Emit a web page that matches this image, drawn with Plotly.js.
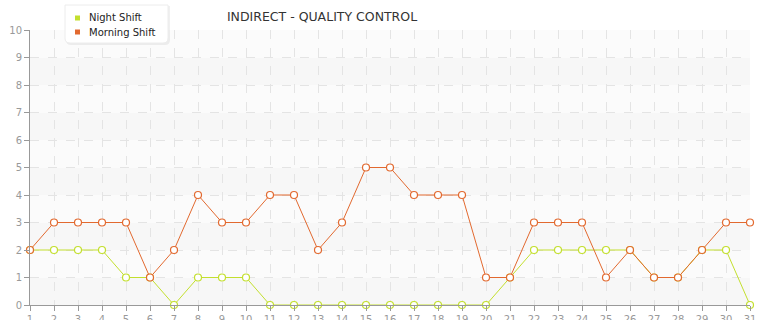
<!DOCTYPE html>
<html><head><meta charset="utf-8">
<script src="https://cdn.plot.ly/plotly-3.0.1.min.js"></script>
<style>html,body{margin:0;padding:0;background:#fff;}#chart{width:765px;height:320px;}</style>
</head><body><div id="chart"></div>
<script>
const days = Array.from({length:31},(_,i)=>i+1);
const nightShift   = [2,2,2,2,1,1,0,1,1,1,0,0,0,0,0,0,0,0,0,0,1,2,2,2,2,2,1,1,2,2,0];
const morningShift = [2,3,3,3,3,1,2,4,3,3,4,4,2,3,5,5,4,4,4,1,1,3,3,3,1,2,1,1,2,3,3];
const yTicks = [0,1,2,3,4,5,6,7,8,9,10];
const seriesNames = ['Night Shift','Morning Shift'];
const nightColor = '#c3df2e';
const morningColor = '#e2692f';

const traces = [
  {x:days,y:nightShift,type:'scatter',mode:'lines+markers',name:seriesNames[0],showlegend:false,
   line:{color:nightColor,width:1},marker:{symbol:'circle',size:7,color:'#fff',line:{color:nightColor,width:1.2}},cliponaxis:false},
  {x:days,y:morningShift,type:'scatter',mode:'lines+markers',name:seriesNames[1],showlegend:false,
   line:{color:morningColor,width:1},marker:{symbol:'circle',size:7,color:'#fff',line:{color:morningColor,width:1.2}},cliponaxis:false}
];

const shapes = [];
for (let i=0;i<10;i++){
  shapes.push({type:'rect',xref:'paper',yref:'y',x0:0,x1:1,y0:i,y1:i+1,layer:'below',line:{width:0},
    fillcolor: i%2===0 ? '#f7f7f7' : '#fbfbfb'});
}
// legend box (pixel-based via paper coords)
const W=765,H=320,L=30,R=15,T=30,B=15;
const pw=W-L-R, ph=H-T-B;
const px = v => (v-L)/pw;
const py = v => (H-B-v)/ph;
function roundRect(x0,y0,x1,y1,r){
  // in pixel coords, convert to paper
  const p = (x,y)=>px(x)+','+py(y);
  return 'M'+p(x0,y0)+' L'+p(x1,y0)+' L'+p(x1,y1-r)+' Q'+p(x1,y1)+' '+p(x1-r,y1)+
         ' L'+p(x0+r,y1)+' Q'+p(x0,y1)+' '+p(x0,y1-r)+' Z';
}
shapes.push({type:'path',xref:'paper',yref:'paper',path:roundRect(66,6,170,45,5),fillcolor:'rgba(0,0,0,0.06)',line:{width:0},layer:'above'});
shapes.push({type:'path',xref:'paper',yref:'paper',path:roundRect(65,5,168,43,5),fillcolor:'#fff',line:{color:'#ececec',width:1},layer:'above'});
const legColors=[nightColor,morningColor];
const annotations=[];
[18,32].forEach((yy,i)=>{
  shapes.push({type:'rect',xref:'paper',yref:'paper',x0:px(75),x1:px(80),y0:py(yy+2.5),y1:py(yy-2.5),fillcolor:legColors[i],line:{width:0},layer:'above'});
  annotations.push({xref:'paper',yref:'paper',x:px(87),y:py(yy),xanchor:'left',yanchor:'middle',showarrow:false,
    text:seriesNames[i],font:{family:'DejaVu Sans',size:10,color:'#222'}});
});

const layout = {
  width:W,height:H,
  margin:{l:L,r:R,t:T,b:B,autoexpand:false},
  paper_bgcolor:'#fff',plot_bgcolor:'#fff',
  title:{text:'INDIRECT - QUALITY CONTROL',xref:'container',x:322/765,xanchor:'center',yref:'container',y:1-17/320,yanchor:'middle',
    font:{family:'DejaVu Sans',size:12.5,color:'#333'}},
  font:{family:'DejaVu Sans',size:10,color:'#999'},
  xaxis:{range:[1,31],tickvals:days,ticks:'outside',ticklen:5,tickcolor:'#999',
    showline:true,linecolor:'#999',linewidth:1,zeroline:false,automargin:false,
    showgrid:true,gridcolor:'#e4e4e4',griddash:'dash',gridwidth:1,
    tickfont:{size:10,color:'#999'}},
  yaxis:{range:[0,10],tickvals:yTicks,ticks:'outside',ticklen:5,tickcolor:'#999',
    showline:true,linecolor:'#999',linewidth:1,zeroline:false,automargin:false,
    showgrid:true,gridcolor:'#e4e4e4',griddash:'dash',gridwidth:1,
    tickfont:{size:10,color:'#999'}},
  shapes:shapes,annotations:annotations,
  showlegend:false
};
Plotly.newPlot('chart',traces,layout,{displayModeBar:false,staticPlot:true});
</script></body></html>
